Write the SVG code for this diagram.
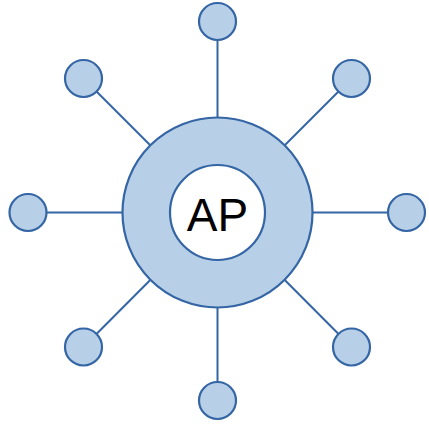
<svg xmlns="http://www.w3.org/2000/svg" width="429" height="424" viewBox="0 0 429 424">
  <style>
    .link { stroke: #3465a4; stroke-width: 2; fill: none; }
    .node { fill: #b7cfe7; stroke: #3465a4; stroke-width: 2.2; }
    .hole { fill: #ffffff; stroke: #3465a4; stroke-width: 2.2; }
    .label { font-family: "Liberation Sans", Arial, sans-serif; font-size: 46px; fill: #000000; }
  </style>
  <rect width="429" height="424" fill="#ffffff"/>
  <g id="connectors">
    <line class="link" x1="217.5" y1="212.5" x2="217.5" y2="21.5"/>
    <line class="link" x1="217.5" y1="212.5" x2="217.5" y2="400.5"/>
    <line class="link" x1="217.5" y1="212.5" x2="28" y2="212.5"/>
    <line class="link" x1="217.5" y1="212.5" x2="406.5" y2="212.5"/>
    <line class="link" x1="217.5" y1="212.5" x2="83.5" y2="78.5"/>
    <line class="link" x1="217.5" y1="212.5" x2="351.5" y2="78.5"/>
    <line class="link" x1="217.5" y1="212.5" x2="83.5" y2="347"/>
    <line class="link" x1="217.5" y1="212.5" x2="351.5" y2="347"/>
  </g>
  <g id="ap">
    <circle class="node" cx="217.5" cy="212.5" r="95"/>
    <circle class="hole" cx="217.5" cy="212.5" r="47.5"/>
    <text class="label" x="217.5" y="231" text-anchor="middle">AP</text>
  </g>
  <g id="client-n"><circle class="node" cx="217.5" cy="21.5" r="18.5"/></g>
  <g id="client-s"><circle class="node" cx="217.5" cy="400.5" r="18.5"/></g>
  <g id="client-w"><circle class="node" cx="28" cy="212.5" r="18.5"/></g>
  <g id="client-e"><circle class="node" cx="406.5" cy="212.5" r="18.5"/></g>
  <g id="client-nw"><circle class="node" cx="83.5" cy="78.5" r="18.5"/></g>
  <g id="client-ne"><circle class="node" cx="351.5" cy="78.5" r="18.5"/></g>
  <g id="client-sw"><circle class="node" cx="83.5" cy="347" r="18.5"/></g>
  <g id="client-se"><circle class="node" cx="351.5" cy="347" r="18.5"/></g>
</svg>
